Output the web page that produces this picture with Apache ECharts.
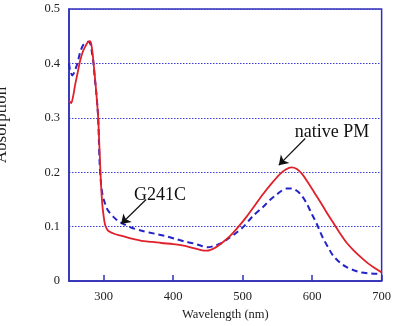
<!DOCTYPE html>
<html>
<head>
<meta charset="utf-8">
<script src="https://cdn.jsdelivr.net/npm/echarts@6/dist/echarts.min.js"></script>
<style>html,body{margin:0;padding:0;background:#fff;overflow:hidden;width:100%;height:100%;}#c{width:100vw;height:100vh;}</style>
</head>
<body>
<div id="c"></div>
<script>
// Native PM (red, solid)
var nativeWavelength = [250,253,256,259,262,266,270,273,276,278,280,282,284,286,288,290,292,294,296,298,300,302,305,308,315,326,340,354,370,383,400,411,425,440,449,460,470,482,494,506,518,530,542,554,562,570,578,586,594,603,612,620,630,640,650,660,670,680,690,700];
var nativeAbs = [0.332,0.327,0.34,0.362,0.38,0.405,0.422,0.43,0.437,0.44,0.441,0.436,0.418,0.392,0.365,0.335,0.3,0.24,0.18,0.14,0.118,0.103,0.095,0.091,0.087,0.083,0.078,0.074,0.072,0.07,0.068,0.066,0.062,0.057,0.056,0.061,0.07,0.083,0.1,0.119,0.14,0.161,0.18,0.197,0.205,0.209,0.206,0.196,0.181,0.163,0.145,0.128,0.108,0.088,0.07,0.056,0.044,0.033,0.024,0.016];
// G241C (blue, dashed)
var mutantWavelength = [250,252,255,258,262,266,270,274,278,281,283,285,287,289,291,292,293,294,296,298,300,304,307,314,321,330,340,356,374,388,402,416,430,440,449,460,470,478,490,502,515,530,540,549,556,563,571,578,585,592,600,606,611,616,623,630,640,649,660,670,685,700];
var mutantAbs = [0.40,0.385,0.378,0.385,0.40,0.42,0.433,0.438,0.44,0.435,0.42,0.403,0.375,0.35,0.32,0.3,0.26,0.22,0.18,0.16,0.15,0.135,0.128,0.118,0.11,0.104,0.098,0.092,0.087,0.083,0.078,0.073,0.069,0.065,0.062,0.065,0.07,0.077,0.088,0.101,0.12,0.137,0.15,0.159,0.166,0.17,0.17,0.166,0.157,0.143,0.122,0.107,0.092,0.078,0.062,0.047,0.034,0.026,0.02,0.016,0.014,0.013];
var xTicks = [300,400,500,600,700];
var yTicks = [0,0.1,0.2,0.3,0.4,0.5];
var seriesNames = ['native PM','G241C'];
// annotation arrows [from, to] in data units
var nativeArrow = [[590,0.262],[552,0.213]];
var mutantArrow = [[361,0.150],[325,0.105]];

function pairs(xs, ys){ return xs.map(function(x,i){ return [x, ys[i]]; }); }

var FONT = '"Liberation Serif", "DejaVu Serif", serif';
var AXIS_BLUE = '#2f2fb8';
var chart = echarts.init(document.getElementById('c'), null, {renderer:'canvas'});
var arrowStyle = {
  silent: true, symbol: ['none','arrow'], symbolSize: 9, animation: false,
  label: {show:false}, lineStyle: {color:'#111', width:1.2, type:'solid'}, emphasis:{disabled:true}
};
chart.setOption({
  animation: false,
  grid: {left:69, right:8, top:9, bottom:40, show:true, borderColor:AXIS_BLUE, borderWidth:1.5, backgroundColor:'transparent'},
  xAxis: {
    type:'value', min:250, max:700,
    name:'Wavelength (nm)', nameLocation:'middle', nameGap:24,
    nameTextStyle:{fontFamily:FONT, fontSize:12.5, color:'#222'},
    axisLine:{show:true, lineStyle:{color:AXIS_BLUE, width:1.5}},
    axisTick:{show:true, inside:true, length:6, customValues:xTicks, lineStyle:{color:AXIS_BLUE, width:1.5}},
    axisLabel:{customValues:xTicks, fontFamily:FONT, fontSize:12.5, color:'#222', margin:9},
    splitLine:{show:false}
  },
  yAxis: {
    type:'value', min:0, max:0.5, interval:0.1,
    axisLine:{show:true, lineStyle:{color:AXIS_BLUE, width:1.5}},
    axisTick:{show:false},
    axisLabel:{fontFamily:FONT, fontSize:12.5, color:'#222', margin:9,
      formatter:function(v){ var t = yTicks.filter(function(k){return Math.abs(k-v)<1e-9;}); return t.length? String(t[0]) : ''; }},
    splitLine:{show:true, lineStyle:{color:'#3c3cd0', width:1, type:[1.5,1.5]}}
  },
  graphic: [
    {type:'text', x:2, y:125, rotation:Math.PI/2, style:{text:'Absorption', font:'17px ' + FONT, fill:'#222', align:'center', verticalAlign:'middle'}},
    {type:'text', x:332, y:132, style:{text:'native PM', font:'18px ' + FONT, fill:'#111', align:'center', verticalAlign:'middle'}},
    {type:'text', x:160, y:195, style:{text:'G241C', font:'18px ' + FONT, fill:'#111', align:'center', verticalAlign:'middle'}}
  ],
  series: [
    {
      name: seriesNames[1], type:'line', data: pairs(mutantWavelength, mutantAbs),
      showSymbol:false, smooth:0.3, z:2,
      lineStyle:{color:'#2323c8', width:2, type:[6,4]},
      markLine: Object.assign({data:[[{coord:mutantArrow[0]},{coord:mutantArrow[1]}]]}, arrowStyle)
    },
    {
      name: seriesNames[0], type:'line', data: pairs(nativeWavelength, nativeAbs),
      showSymbol:false, smooth:0.3, z:3,
      lineStyle:{color:'#e0202a', width:1.8},
      markLine: Object.assign({data:[[{coord:nativeArrow[0]},{coord:nativeArrow[1]}]]}, arrowStyle)
    }
  ]
});
</script>
</body>
</html>
